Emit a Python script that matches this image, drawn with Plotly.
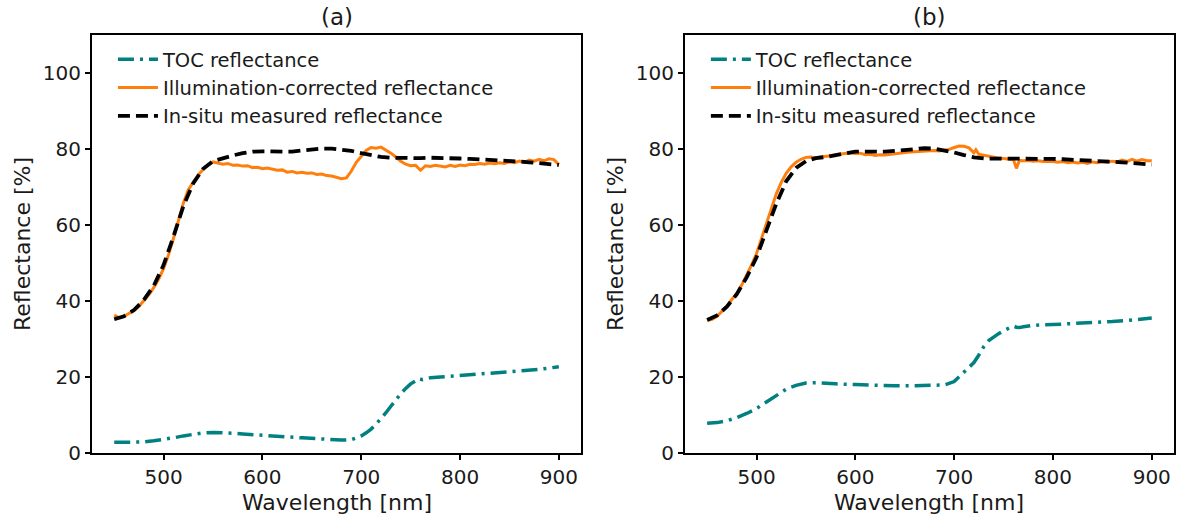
import plotly.graph_objects as go

# ---------------- Panel (a) ----------------
wl_toc_a = [450, 460, 470, 480, 490, 500, 510, 520, 530, 540, 550, 560, 570, 580, 600, 620, 640, 660, 680,
            690, 695, 700, 705, 710, 715, 720, 725, 730, 735, 740, 745, 750, 755, 758, 762, 765, 770, 780,
            800, 820, 840, 860, 880, 900]
toc_a = [2.8, 2.8, 2.8, 2.9, 3.2, 3.5, 4.0, 4.5, 5.0, 5.3, 5.4, 5.4, 5.2, 5.0, 4.6, 4.3, 4.0, 3.7, 3.4,
         3.5, 3.9, 4.5, 5.3, 6.3, 7.6, 9.0, 10.6, 12.3, 14.0, 15.6, 17.0, 18.2, 19.0, 19.6, 19.3, 19.5, 19.8, 20.0,
         20.4, 20.7, 21.0, 21.4, 22.0, 22.7]

wl_10 = list(range(450, 901, 10))
insitu_a = [35.2, 36.0, 37.6, 40.3, 44.0, 49.5, 57.0, 65.0, 71.0, 74.8, 76.8, 77.6, 78.3, 78.9, 79.3, 79.4,
            79.3, 79.2, 79.3, 79.6, 79.9, 80.1, 80.1, 79.9, 79.5, 78.9, 78.3, 77.9, 77.7, 77.6, 77.6, 77.6,
            77.7, 77.7, 77.6, 77.5, 77.4, 77.3, 77.2, 77.0, 76.9, 76.7, 76.5, 76.3, 76.1, 75.8]

wl_5 = list(range(450, 901, 5))
illum_a = [36.3, 35.6, 36.0, 36.8, 37.5, 38.6, 40.0, 41.6, 43.5, 45.8, 48.6, 52.2, 56.5, 61.2, 65.8, 69.3,
           71.2, 73.2, 74.6, 75.8, 76.6, 76.3, 76.0, 76.2, 75.7, 75.8, 75.5, 75.6, 75.1, 75.2, 74.8, 75.0,
           74.6, 74.4, 74.5, 73.9, 74.1, 73.7, 73.9, 73.6, 73.7, 73.3, 73.4, 73.0, 72.9, 72.5, 72.2, 72.4,
           74.2, 76.5, 78.2, 79.6, 80.4, 80.2, 80.5, 79.8, 78.9, 77.9, 76.8, 76.0, 75.6, 75.7, 74.4, 75.6,
           75.4, 75.7, 75.5, 75.3, 75.7, 75.4, 75.8, 75.6, 76.0, 75.9, 76.2, 76.0, 76.3, 76.1, 76.4, 76.2,
           76.6, 76.4, 76.8, 76.5, 77.1, 76.8, 77.3, 76.9, 77.4, 77.2, 75.9]

# ---------------- Panel (b) ----------------
wl_toc_b = [450, 460, 470, 480, 490, 500, 510, 520, 530, 540, 550, 560, 570, 580, 600, 620, 640, 660, 680,
            690, 700, 705, 710, 715, 720, 725, 730, 735, 740, 745, 750, 755, 760, 763, 766, 770, 780, 800,
            820, 840, 860, 880, 890, 900]
toc_b = [7.8, 8.0, 8.5, 9.3, 10.4, 11.7, 13.4, 15.2, 16.8, 17.8, 18.4, 18.5, 18.3, 18.2, 18.0, 17.8, 17.7,
         17.7, 17.8, 17.9, 18.8, 20.0, 21.5, 22.6, 23.8, 25.8, 28.0, 29.6, 30.6, 31.4, 32.2, 32.8, 33.4,
         33.1, 33.0, 33.2, 33.6, 33.8, 34.0, 34.3, 34.6, 35.0, 35.3, 35.5]

insitu_b = [35.0, 36.2, 38.5, 41.8, 46.2, 51.5, 58.6, 65.6, 71.5, 75.0, 76.8, 77.6, 77.9, 78.4, 79.0, 79.3,
            79.3, 79.2, 79.3, 79.5, 79.8, 80.1, 80.2, 80.1, 79.7, 79.1, 78.4, 77.8, 77.5, 77.5, 77.6, 77.6,
            77.6, 77.6, 77.5, 77.4, 77.3, 77.2, 77.0, 76.9, 76.8, 76.6, 76.5, 76.3, 76.1, 75.9]

wl_illum_b = [450, 455, 460, 465, 470, 475, 480, 485, 490, 495, 500, 505, 510, 515, 520, 525, 530, 535, 540,
              545, 550, 555, 560, 565, 570, 575, 580, 585, 590, 595, 600, 605, 610, 615, 620, 625, 630, 635,
              640, 645, 650, 655, 660, 665, 670, 675, 680, 685, 690, 695, 700, 705, 710, 715, 720, 722, 725,
              730, 735, 740, 745, 750, 755, 760, 763, 766, 770, 775, 780, 785, 790, 795, 800, 805, 810, 815,
              820, 825, 830, 835, 840, 845, 850, 855, 860, 865, 870, 875, 880, 885, 890, 895, 900]
illum_b = [34.9, 35.2, 36.0, 37.2, 38.6, 40.4, 42.0, 44.2, 46.8, 49.5, 52.5, 56.3, 60.2, 64.4, 68.2, 71.2,
           73.6, 75.3, 76.5, 77.3, 77.8, 77.9, 77.7, 77.9, 78.0, 78.2, 78.5, 78.7, 78.9, 79.0, 78.8, 78.9,
           78.5, 78.6, 78.3, 78.5, 78.4, 78.6, 78.7, 78.9, 79.0, 79.2, 79.3, 79.4, 79.4, 79.5, 79.6, 79.5,
           79.7, 79.9, 80.4, 80.8, 80.7, 80.3, 79.0, 79.8, 78.6, 78.3, 78.0, 77.8, 77.6, 77.5, 77.4, 77.2,
           74.9, 77.0, 76.9, 77.0, 76.8, 76.9, 76.7, 76.8, 76.7, 76.5, 76.7, 76.4, 76.6, 76.3, 76.5, 76.2,
           76.6, 76.4, 76.7, 76.5, 76.8, 76.6, 77.1, 76.7, 77.3, 76.8, 77.2, 76.9, 76.9]

panel_titles = ["(a)", "(b)"]
series_names = ["TOC reflectance", "Illumination-corrected reflectance", "In-situ measured reflectance"]
x_title = "Wavelength [nm]"
y_title = "Reflectance [%]"
x_ticks = [500, 600, 700, 800, 900]
y_ticks = [0, 20, 40, 60, 80, 100]

TEAL = "#008080"
ORANGE = "#ff7f0e"
FONT = "DejaVu Sans"
TXT = "#1a1a1a"

W, H = 1186, 519
ML, MR, MT, MB = 92, 10, 35, 66
PW = W - ML - MR
PH = H - MT - MB
dom_a = [0, 490 / PW]
dom_b = [594 / PW, 1.0]

fig = go.Figure()

panels = [
    ("x", "y", "legend", wl_toc_a, toc_a, wl_5, illum_a, wl_10, insitu_a),
    ("x2", "y2", "legend2", wl_toc_b, toc_b, wl_illum_b, illum_b, wl_10, insitu_b),
]
for xa, ya, lg, wt, t, wi, il, ws, ins in panels:
    fig.add_trace(go.Scatter(x=wt, y=t, mode="lines", name=series_names[0], xaxis=xa, yaxis=ya, legend=lg,
                             line=dict(color=TEAL, width=3.5, dash="16px,6px,3px,6px")))
    fig.add_trace(go.Scatter(x=wi, y=il, mode="lines", name=series_names[1], xaxis=xa, yaxis=ya, legend=lg,
                             line=dict(color=ORANGE, width=3)))
    fig.add_trace(go.Scatter(x=ws, y=ins, mode="lines", name=series_names[2], xaxis=xa, yaxis=ya, legend=lg,
                             line=dict(color="black", width=3.8, dash="12px,6px")))

axis_common = dict(showline=True, mirror=True, linecolor="black", linewidth=2, ticks="outside", ticklen=5,
                   tickwidth=1.5, tickcolor="black", showgrid=False, zeroline=False,
                   tickfont=dict(family=FONT, size=20, color=TXT))

fig.update_layout(
    width=W, height=H,
    margin=dict(l=ML, r=MR, t=MT, b=MB, pad=0),
    paper_bgcolor="white", plot_bgcolor="white",
    showlegend=True,
    xaxis=dict(domain=dom_a, range=[427.5, 922.5], tickvals=x_ticks, anchor="y", **axis_common),
    yaxis=dict(domain=[0, 1], range=[0, 110], tickvals=y_ticks, anchor="x", **axis_common),
    xaxis2=dict(domain=dom_b, range=[427.5, 922.5], tickvals=x_ticks, anchor="y2", **axis_common),
    yaxis2=dict(domain=[0, 1], range=[0, 110], tickvals=y_ticks, anchor="x2", **axis_common),
    legend=dict(x=(113 - ML) / PW, y=1 - 5 / PH, xanchor="left", yanchor="top", bgcolor="rgba(0,0,0,0)",
                font=dict(family=FONT, size=19.5, color=TXT), itemwidth=40, borderwidth=0),
    legend2=dict(x=(707 - ML) / PW, y=1 - 5 / PH, xanchor="left", yanchor="top", bgcolor="rgba(0,0,0,0)",
                 font=dict(family=FONT, size=19.5, color=TXT), itemwidth=40, borderwidth=0),
)

for dom, ttl in zip([dom_a, dom_b], panel_titles):
    cx = (dom[0] + dom[1]) / 2
    fig.add_annotation(text=ttl, x=cx, y=1, xref="paper", yref="paper", xanchor="center", yanchor="middle",
                       yshift=18, showarrow=False, font=dict(family=FONT, size=23, color=TXT))
    fig.add_annotation(text=x_title, x=cx, y=0, xref="paper", yref="paper", xanchor="center", yanchor="middle",
                       yshift=-49, showarrow=False, font=dict(family=FONT, size=22, color=TXT))
    fig.add_annotation(text=y_title, x=dom[0], y=0.5, xref="paper", yref="paper", xanchor="center",
                       yanchor="middle", xshift=-70, textangle=-90, showarrow=False,
                       font=dict(family=FONT, size=22, color=TXT))

fig.write_html("out.html")
